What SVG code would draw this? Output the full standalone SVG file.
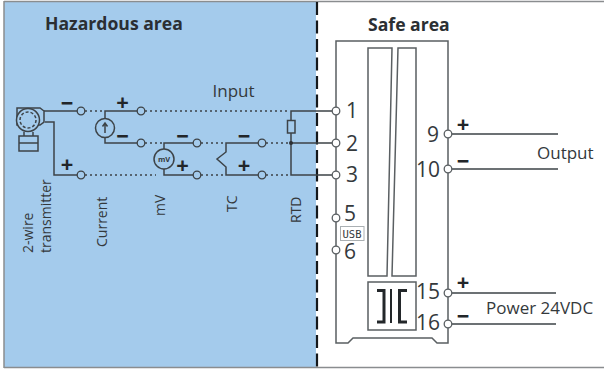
<svg xmlns="http://www.w3.org/2000/svg" width="604" height="369" viewBox="0 0 604 369">
<style>
.w{fill:none;stroke:#3d4347;stroke-width:1.5}
.d{fill:none;stroke:#3d4347;stroke-width:1.5;stroke-dasharray:2 3}
.g{fill:none;stroke:#5a5f62;stroke-width:1.5}
.t{fill:none;stroke:#3d4347;stroke-width:1.3}
.b{fill:#fff;stroke:#5a5f62;stroke-width:1.3}
text{font-family:"Open Sans","Noto Sans",sans-serif;fill:#34393c}
.h{font-weight:700;font-size:17.600px;fill:#2b2f33}
.l{font-size:14px}
.m{font-size:17px}
.n{font-size:21px}
.p{font-weight:700;font-size:22px;fill:#22262a;text-anchor:middle}
</style>
<rect width="604" height="369" fill="#fff"/>
<rect x="4" y="2" width="312" height="365" fill="#a4cbec"/>
<path d="M4 1.500H604M4 367.500H604M4 1V368" fill="none" stroke="#8a8d8f" stroke-width="1.500"/>
<path id="divider" d="M317 2V367" fill="none" stroke="#15181b" stroke-width="2.200" stroke-dasharray="13 5.500"/>

<g id="connectors">
<path class="w" d="M44 111H77M45 122H54V175H77"/>
<path class="d" d="M85 111H105M145 111H290M145 143H164M85 175H156M201 143H226M201 175H226M266 143H290M266 175H290"/>
<path class="w" d="M137 111H105V118.500M105 137.500V143H137"/>
<path class="w" d="M193 143H164V149M164 169V175H193"/>
<path class="w" d="M258 143H226V152L217 159L226 167V175H258"/>
<path class="w" d="M333 111H291V175H333M291 143H333"/>
<path class="w" d="M452 134H558M452 169H558M452 293H556M452 324H556"/>
</g>

<g id="transmitter">
<path class="w" d="M17 108H40L44 111V122L40 125H17Z"/>
<circle class="w" cx="28" cy="120" r="11.500" style="fill:#a4cbec"/>
<circle class="d" cx="28" cy="120" r="8" style="stroke-dasharray:3 2"/>
<path class="w" d="M24 132V136M33 132V136"/>
<rect class="w" x="19" y="136" width="19" height="15"/>
<path class="w" d="M19 143H38"/>
<circle class="t" cx="81" cy="111" r="3.800"/>
<circle class="t" cx="81" cy="175" r="3.800"/>
<text class="p" x="67" y="111">−</text>
<text class="p" x="67" y="172">+</text>
<text class="l" transform="translate(33 253) rotate(-90)">2-wire</text>
<text class="l" transform="translate(51 253) rotate(-90)">transmitter</text>
</g>

<g id="current">
<circle class="w" cx="105" cy="128" r="9.500"/>
<path class="w" d="M105 133V124M102.500 126.500L105 123L107.500 126.500"/>
<circle class="t" cx="141" cy="111" r="3.800"/>
<circle class="t" cx="141" cy="143" r="3.800"/>
<text class="p" x="122.500" y="110">+</text>
<text class="p" x="122.500" y="144">−</text>
<text class="l" transform="translate(107 247) rotate(-90)">Current</text>
</g>

<g id="mv">
<circle class="w" cx="164" cy="159" r="10"/>
<text x="164" y="162" text-anchor="middle" font-size="7.500" font-weight="700">mV</text>
<circle class="t" cx="197" cy="143" r="3.800"/>
<circle class="t" cx="197" cy="175" r="3.800"/>
<text class="p" x="182.500" y="144">−</text>
<text class="p" x="182.500" y="173">+</text>
<text class="l" transform="translate(165 216) rotate(-90)">mV</text>
</g>

<g id="tc">
<circle class="t" cx="262" cy="143" r="3.800"/>
<circle class="t" cx="262" cy="175" r="3.800"/>
<text class="p" x="244" y="144">−</text>
<text class="p" x="244" y="173">+</text>
<text class="l" transform="translate(237 212) rotate(-90)">TC</text>
</g>

<g id="rtd">
<rect class="w" x="287.500" y="120.500" width="7.500" height="12.500" style="fill:#a4cbec"/>
<circle cx="291" cy="143" r="2" fill="#2b2f33"/>
<text class="l" transform="translate(301 223) rotate(-90)">RTD</text>
</g>

<text id="input" class="m" x="212.500" y="97">Input</text>
<text id="hazard" class="h" x="45" y="30">Hazardous area</text>

<g id="module">
<text class="h" x="368" y="31">Safe area</text>
<path class="g" d="M336 343V41H448V343H437L432 338H353L348 343Z"/>
<path class="g" d="M368 276V48H392L387 276ZM398 48H416V276H392Z"/>
<rect class="g" x="368" y="282" width="48" height="48"/>
<path fill="none" stroke="#23272a" stroke-width="3" d="M377 290.500H384V322H377M407 290.500H399.500V322H407"/>
<path fill="none" stroke="#23272a" stroke-width="2" d="M391 289V323"/>
</g>

<g id="terminals">
<circle class="b" cx="336" cy="111" r="3.800"/><text class="n" x="346" y="118">1</text>
<circle class="b" cx="336" cy="143" r="3.800"/><text class="n" x="346" y="151">2</text>
<circle class="b" cx="336" cy="175" r="3.800"/><text class="n" x="346" y="182">3</text>
<circle class="b" cx="336" cy="218" r="3.800"/><text class="n" x="344" y="221">5</text>
<circle class="b" cx="336" cy="250" r="3.800"/><text class="n" x="344" y="259">6</text>
<rect x="340.500" y="226.500" width="23.500" height="14" fill="#fff" stroke="#aab0b3"/>
<text x="352" y="237.500" text-anchor="middle" font-size="10.500" style="font-family:'DejaVu Sans Mono',monospace">USB</text>
<circle class="b" cx="448" cy="134" r="3.800"/><text class="n" x="439" y="142" text-anchor="end">9</text>
<circle class="b" cx="448" cy="169" r="3.800"/><text class="n" x="440" y="177" text-anchor="end">10</text>
<circle class="b" cx="448" cy="293" r="3.800"/><text class="n" x="440" y="299" text-anchor="end">15</text>
<circle class="b" cx="448" cy="324" r="3.800"/><text class="n" x="440" y="330" text-anchor="end">16</text>
<text class="p" x="463" y="132">+</text>
<text class="p" x="463" y="169">−</text>
<text class="p" x="463" y="290">+</text>
<text class="p" x="463" y="324">−</text>
<text class="m" x="537" y="159">Output</text>
<text class="m" x="486" y="314">Power 24VDC</text>
</g>
</svg>
